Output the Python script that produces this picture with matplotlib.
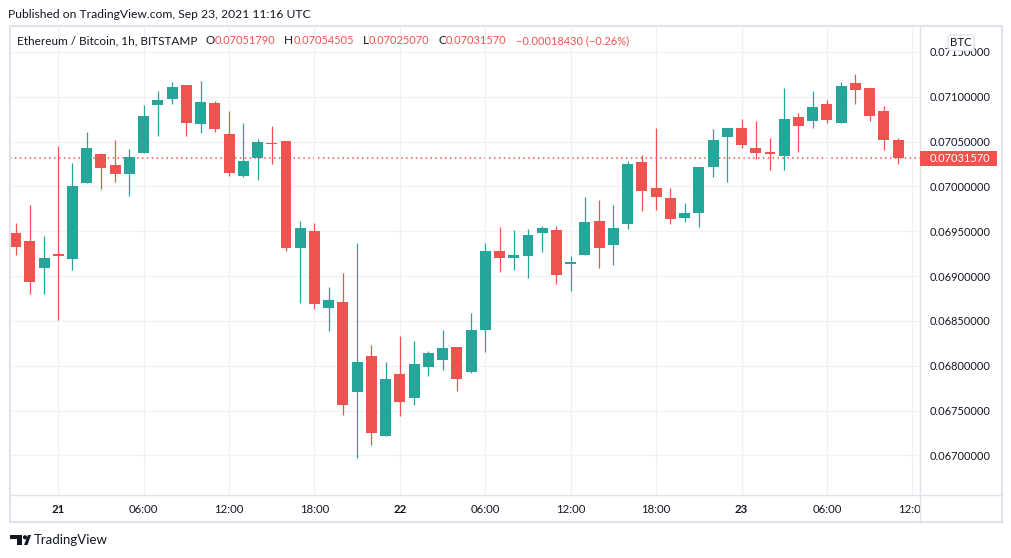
import numpy as np
import matplotlib
matplotlib.use("Agg")
import matplotlib.pyplot as plt
from matplotlib.patches import Rectangle, FancyBboxPatch, Polygon, Circle
from matplotlib.transforms import Bbox, blended_transform_factory

plt.rcParams['font.family'] = ['Lato', 'DejaVu Sans']

# ETH/BTC 1h candles, Sep 20 21:00 .. Sep 23 11:00 UTC
opens = [
    0.069479, 0.069390, 0.069092, 0.069244, 0.069192, 0.070040, 0.070360, 0.070238, 0.070141, 0.070375,
    0.070911, 0.070978, 0.071131, 0.070699, 0.070930, 0.070584, 0.070118, 0.070312, 0.070487, 0.070506,
    0.069315, 0.069501, 0.068645, 0.068709, 0.067708, 0.068106, 0.067217, 0.067905, 0.067641, 0.067987,
    0.068065, 0.068207, 0.067931, 0.068400, 0.069278, 0.069203, 0.069225, 0.069482, 0.069512, 0.069136,
    0.069237, 0.069613, 0.069348, 0.069583, 0.070271, 0.069981, 0.069869, 0.069650, 0.069705, 0.070219,
    0.070554, 0.070651, 0.070427, 0.070383, 0.070341, 0.070773, 0.070732, 0.070918, 0.070710, 0.071153,
    0.071097, 0.070840, 0.0705179]
highs = [
    0.069590, 0.069791, 0.069445, 0.070450, 0.070260, 0.070606, 0.070372, 0.070517, 0.070416, 0.070907,
    0.071064, 0.071164, 0.071131, 0.071175, 0.070952, 0.070840, 0.070706, 0.070528, 0.070673, 0.070506,
    0.069613, 0.069590, 0.068876, 0.069032, 0.069367, 0.068229, 0.068039, 0.068329, 0.068274, 0.068162,
    0.068396, 0.068207, 0.068586, 0.069367, 0.069546, 0.069512, 0.069523, 0.069557, 0.069557, 0.069222,
    0.069881, 0.069847, 0.069791, 0.070282, 0.070349, 0.070651, 0.069981, 0.069814, 0.070215, 0.070639,
    0.070651, 0.070751, 0.070729, 0.070539, 0.071097, 0.070818, 0.071064, 0.070963, 0.071164, 0.071253,
    0.071097, 0.070896, 0.07054505]
lows = [
    0.069233, 0.068801, 0.068801, 0.068508, 0.069069, 0.070040, 0.069973, 0.070051, 0.069895, 0.070375,
    0.070561, 0.070922, 0.070561, 0.070598, 0.070609, 0.070118, 0.070107, 0.070074, 0.070252, 0.069281,
    0.068701, 0.068634, 0.068388, 0.067451, 0.066971, 0.067116, 0.067217, 0.067440, 0.067563, 0.067886,
    0.067953, 0.067719, 0.067920, 0.068154, 0.069047, 0.069069, 0.068980, 0.069270, 0.068913, 0.068835,
    0.069237, 0.069092, 0.069125, 0.069527, 0.069728, 0.069739, 0.069583, 0.069605, 0.069549, 0.070107,
    0.070051, 0.070431, 0.070308, 0.070185, 0.070185, 0.070386, 0.070654, 0.070710, 0.070710, 0.070922,
    0.070732, 0.070408, 0.0702507]
closes = [
    0.069326, 0.068935, 0.069200, 0.069222, 0.070003, 0.070427, 0.070208, 0.070141, 0.070327, 0.070785,
    0.070963, 0.071108, 0.070710, 0.070941, 0.070643, 0.070152, 0.070282, 0.070494, 0.070475, 0.069315,
    0.069535, 0.068690, 0.068731, 0.067563, 0.068039, 0.067250, 0.067849, 0.067596, 0.068017, 0.068140,
    0.068195, 0.067853, 0.068396, 0.069278, 0.069203, 0.069233, 0.069457, 0.069535, 0.069013, 0.069155,
    0.069602, 0.069315, 0.069535, 0.070249, 0.069951, 0.069884, 0.069638, 0.069702, 0.070215, 0.070517,
    0.070651, 0.070464, 0.070375, 0.070364, 0.070751, 0.070676, 0.070885, 0.070743, 0.071119, 0.071078,
    0.070788, 0.070518, 0.0703157]

price_ticks = [0.0670, 0.0675, 0.0680, 0.0685, 0.0690, 0.0695, 0.0700, 0.0705, 0.0710, 0.0715]
time_ticks = [3, 9, 15, 21, 27, 33, 39, 45, 51, 57, 63]
time_labels = ["21", "06:00", "12:00", "18:00", "22", "06:00", "12:00", "18:00", "23", "06:00", "12:00"]
day_labels = {"21", "22", "23"}

UP = '#26a69a'
DOWN = '#ef5350'
TXT = '#131722'
GRID = '#f0f2f5'
BORDER = '#e0e3eb'

W, H = 1012, 558
fig = plt.figure(figsize=(W / 100, H / 100), dpi=100)
fig.set_facecolor('white')

# main price pane, in pixels: x 10..920, y 26..495
px_l, px_r, px_t, px_b = 10, 920.3, 26, 495.3
ax = fig.add_axes([px_l / W, 1 - px_b / H, (px_r - px_l) / W, (px_b - px_t) / H])

x = np.arange(len(opens))
o = np.array(opens)
c = np.array(closes)
colors = [UP if cc >= oo else DOWN for oo, cc in zip(o, c)]
body_lo = np.minimum(o, c)
body_h = np.maximum(np.abs(c - o), 0.000012)

ax.vlines(x, lows, highs, colors=colors, linewidth=0.9, zorder=2)
ax.bar(x, body_h, bottom=body_lo, width=0.77, color=colors, linewidth=0, zorder=3)

last = closes[-1]
ax.axhline(last, color=DOWN, linestyle=(0, (1, 2.2)), linewidth=1.1, zorder=1)

ax.set_xlim(-0.39, 63.56)
ax.set_ylim(0.066555, 0.071789)
ax.set_yticks(price_ticks)
ax.set_yticklabels(['%.8f' % p for p in price_ticks])
ax.set_xticks(time_ticks)
ax.set_xticklabels([])
ax.yaxis.tick_right()
ax.tick_params(axis='y', length=0, pad=7, labelsize=7.9, labelcolor=TXT)
ax.tick_params(axis='x', length=0)
ax.grid(True, color=GRID, linewidth=1, zorder=0)
for s in ax.spines.values():
    s.set_visible(False)

# time labels below the pane, clipped at the price scale
trans = blended_transform_factory(ax.transData, ax.transAxes)
clip = Bbox.from_extents(0, 0, px_r, H)
for t, lab in zip(time_ticks, time_labels):
    tx = ax.text(t, -14 / (px_b - px_t), lab, transform=trans, ha='center', va='center',
                 fontsize=8.2, color=TXT, fontweight='bold' if lab in day_labels else 'normal',
                 clip_on=True)
    tx.set_clip_box(clip)

# overlay in pixel coordinates for the frame and decorations
ov = fig.add_axes([0, 0, 1, 1], facecolor='none')
ov.set_xlim(0, W)
ov.set_ylim(H, 0)
ov.axis('off')

ov.add_patch(Rectangle((10, 26), 992, 496, fill=False, edgecolor=BORDER, linewidth=1.5))
ov.plot([10, 1002], [px_b, px_b], color=BORDER, linewidth=1)
ov.plot([px_r, px_r], [26, 522], color=BORDER, linewidth=1)

ov.text(8, 14, "Published on TradingView.com, Sep 23, 2021 11:16 UTC", fontsize=8.7,
        color=TXT, va='center', ha='left')

# legend row
t0 = ov.text(17, 41, "Ethereum / Bitcoin, 1h, BITSTAMP", fontsize=8.5, color=TXT,
             va='center', ha='left')
parts = [("O", TXT, 5.5, 8.5), ("0.07051790", DOWN, 0, 7.9), ("H", TXT, 6.5, 8.5), ("0.07054505", DOWN, 0, 7.9),
         ("L", TXT, 6.5, 8.5), ("0.07025070", DOWN, 0, 7.9), ("C", TXT, 6.5, 8.5), ("0.07031570", DOWN, 0, 7.9),
         ("\u22120.00018430 (\u22120.26%)", DOWN, 6.5, 7.9)]
prev = t0
for s, col, gap, fs in parts:
    prev = ov.annotate(s, xy=(1, 0.5), xycoords=prev, xytext=(gap, 0), textcoords='offset points',
                       fontsize=fs, color=col, va='center', ha='left')

# currency badge and last price label
ov.add_patch(FancyBboxPatch((948, 35), 26, 15.5, boxstyle='round,pad=0,rounding_size=3',
                            facecolor='white', edgecolor=BORDER, linewidth=1, zorder=5))
ov.text(961, 43, "BTC", fontsize=8.2, color=TXT, ha='center', va='center', zorder=6)
ov.add_patch(Rectangle((px_r, 150.7), 77, 15.3, facecolor=DOWN, edgecolor='none', zorder=5))
ov.text(930, 158.5, '%.8f' % last, fontsize=7.9, color='white', ha='left', va='center', zorder=6)

# TradingView logo
ov.add_patch(Polygon([(10, 535), (22, 535), (22, 545), (17, 545), (17, 539), (10, 539)],
                     closed=True, facecolor=TXT, edgecolor='none'))
ov.add_patch(Circle((25, 537.3), 2.1, facecolor=TXT, edgecolor='none'))
ov.add_patch(Polygon([(24, 545), (28, 535), (31, 535), (27.5, 545)], closed=True,
                     facecolor=TXT, edgecolor='none'))
ov.text(34, 540, "TradingView", fontsize=9.5, color=TXT, ha='left', va='center')

fig.savefig('out.png', dpi=100, facecolor='white')
